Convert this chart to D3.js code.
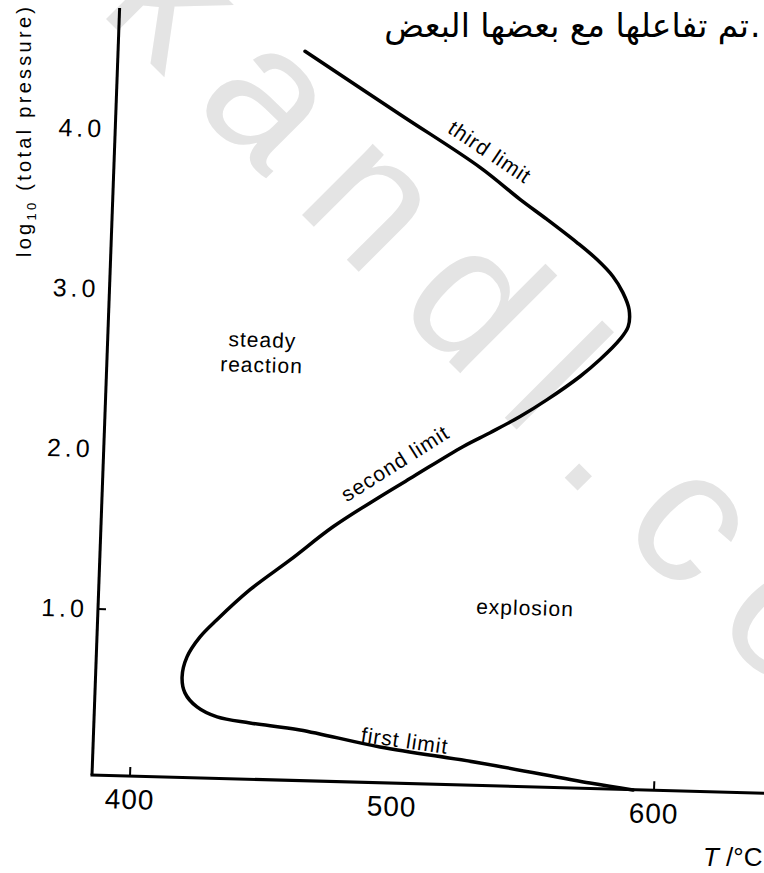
<!DOCTYPE html>
<html>
<head>
<meta charset="utf-8">
<script src="https://cdn.jsdelivr.net/npm/d3@7"></script>
<style>
  body { margin: 0; background: #fff; }
  svg { display: block; }
</style>
</head>
<body>
<div id="chart"></div>
<script>
// temperature / degC and log10(total pressure) along the explosion boundary
const curveT = [456.8, 493.9, 525.1, 540.8, 551.4, 563.1, 571.0, 577.3, 581.3, 583.9,
  583.8, 580.8, 573.5, 566.1, 553.9, 543.8, 532.6, 522.4, 503.8, 491.5,
  474.0, 458.1, 443.2, 431.0, 424.8, 420.1, 418.5, 419.8, 424.6, 432.4,
  445.0, 464.2, 494.9, 533.3, 575.5, 592.0];
const curveLogP = [4.517, 4.139, 3.822, 3.629, 3.508, 3.369, 3.266, 3.163, 3.064, 2.959,
  2.853, 2.771, 2.642, 2.533, 2.383, 2.273, 2.167, 2.075, 1.879, 1.749,
  1.553, 1.339, 1.146, 0.953, 0.843, 0.716, 0.590, 0.491, 0.405, 0.346,
  0.314, 0.279, 0.186, 0.103, -0.004, -0.04];

const xTicks = [400, 500, 600];
const yTicks = [1, 2, 3, 4];
const xTickMarks = [400, 600];
const yTickMarks = [1];

const width = 764, height = 873;
const ox = 92, oy = 775; // axis corner on the page

const svg = d3.select("#chart").append("svg")
  .attr("width", width)
  .attr("height", height)
  .style("font-family", "'Liberation Sans', Arial, sans-serif");

// watermark
svg.append("text")
  .attr("transform", "translate(97,10) rotate(45)")
  .attr("fill", "#e4e4e4")
  .style("font-size", "190px")
  .style("letter-spacing", "38px")
  .text("kandl.com");

// arabic line from the page above the figure (full stop drawn on its own so it stays on the right)
svg.append("text")
  .attr("x", 749)
  .attr("y", 37)
  .attr("text-anchor", "end")
  .style("font-family", "'DejaVu Sans', sans-serif")
  .style("font-size", "33px")
  .text("تم تفاعلها مع بعضها البعض");
svg.append("text")
  .attr("x", 750)
  .attr("y", 37)
  .style("font-family", "'DejaVu Sans', sans-serif")
  .style("font-size", "33px")
  .text(".");

// the scanned figure is slightly skewed
const g = svg.append("g")
  .attr("transform", `matrix(1,0.027,-0.036,1,${ox},${oy})`);

const x = d3.scaleLinear().domain([400, 600]).range([38, 562]);
const y = d3.scaleLinear().domain([0, 4]).range([-6, -646]);

// axis lines
g.append("line")
  .attr("x1", 0).attr("y1", 0).attr("x2", 0).attr("y2", -767)
  .attr("stroke", "#000").attr("stroke-width", 3);
g.append("line")
  .attr("x1", -1.5).attr("y1", 0).attr("x2", 700).attr("y2", 0)
  .attr("stroke", "#000").attr("stroke-width", 3);

// tick marks (only those visible in the figure)
g.selectAll(".xtm").data(xTickMarks).join("line")
  .attr("x1", d => x(d)).attr("x2", d => x(d))
  .attr("y1", 0).attr("y2", -9)
  .attr("stroke", "#000").attr("stroke-width", 2);
g.selectAll(".ytm").data(yTickMarks).join("line")
  .attr("x1", 0).attr("x2", 8)
  .attr("y1", d => y(d)).attr("y2", d => y(d))
  .attr("stroke", "#000").attr("stroke-width", 2);

// tick labels
const xAxis = g.append("g")
  .call(d3.axisBottom(x).tickValues(xTicks).tickSize(0).tickPadding(13).tickFormat(d3.format("d")));
xAxis.select(".domain").remove();
xAxis.selectAll("text")
  .attr("fill", "#000")
  .style("font-size", "28px")
  .style("letter-spacing", "1px")
  .style("font-family", "'Liberation Sans', Arial, sans-serif");

const yAxis = g.append("g")
  .call(d3.axisLeft(y).tickValues(yTicks).tickSize(0).tickPadding(10).tickFormat(d3.format(".1f")));
yAxis.select(".domain").remove();
yAxis.selectAll("text")
  .attr("fill", "#000")
  .style("font-size", "25px")
  .style("letter-spacing", "4px")
  .style("font-family", "'Liberation Sans', Arial, sans-serif");

// boundary curve
const pts = curveT.map((t, i) => [x(t), y(curveLogP[i])]);
const line = d3.line().curve(d3.curveCatmullRom.alpha(0.5));
g.append("path")
  .attr("d", line(pts))
  .attr("fill", "none")
  .attr("stroke", "#000")
  .attr("stroke-width", 3.5)
  .attr("stroke-linecap", "round")
  .attr("stroke-linejoin", "round");

// limit labels along the curve
const limitLabels = [
  { text: "third limit", T: 528.7, logP: 3.92, angle: 32 },
  { text: "second limit", T: 496.8, logP: 1.96, angle: -34 },
  { text: "first limit", T: 504.3, logP: 0.23, angle: 6.5 }
];
g.selectAll(".limit").data(limitLabels).join("text")
  .attr("transform", d => `translate(${x(d.T)},${y(d.logP)}) rotate(${d.angle})`)
  .attr("text-anchor", "middle")
  .attr("dy", "0.35em")
  .style("font-size", "21px")
  .style("letter-spacing", "1px")
  .text(d => d.text);

// region labels
const regionLabels = [
  { lines: ["steady", "reaction"], T: 444.5, logP: 2.63 },
  { lines: ["explosion"], T: 548.3, logP: 1.08 }
];
regionLabels.forEach(r => {
  const t = g.append("text")
    .attr("transform", `translate(${x(r.T)},${y(r.logP)})`)
    .attr("text-anchor", "middle")
    .style("font-size", "21px")
    .style("letter-spacing", "1px");
  r.lines.forEach((s, i) => {
    t.append("tspan")
      .attr("x", 0)
      .attr("dy", i === 0 ? `${0.35 - (r.lines.length - 1) * 0.6}em` : "1.2em")
      .text(s);
  });
});

// axis titles (page coordinates)
const yTitle = svg.append("text")
  .attr("transform", "translate(31,257) rotate(-90)")
  .attr("text-anchor", "start")
  .attr("textLength", 250)
  .style("font-size", "20px");
yTitle.append("tspan").text("log");
yTitle.append("tspan").attr("dy", 5).style("font-size", "13px").text("10");
yTitle.append("tspan").attr("dy", -5).text(" (total pressure)");

const xTitle = svg.append("text")
  .attr("x", 703)
  .attr("y", 866)
  .style("font-size", "26px");
xTitle.append("tspan").style("font-style", "italic").text("T");
xTitle.append("tspan").text(" /°C");
</script>
</body>
</html>
